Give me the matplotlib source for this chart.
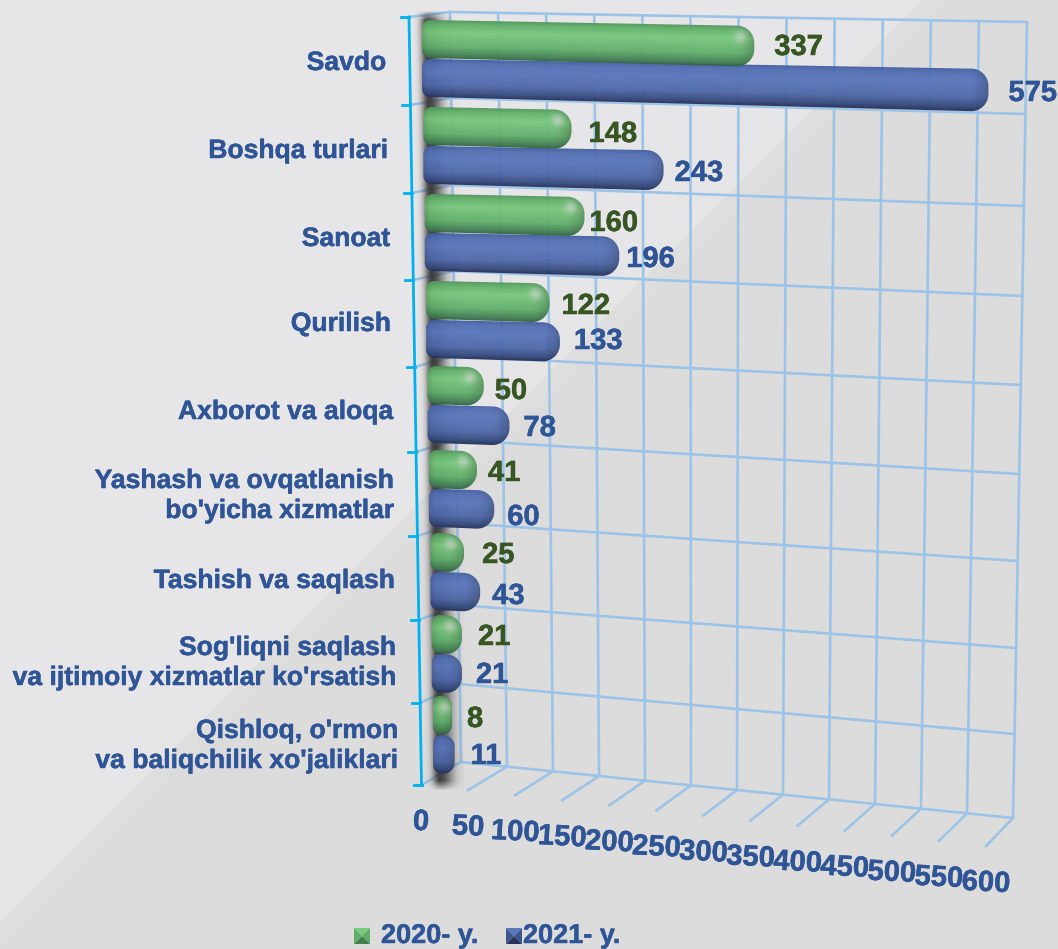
import numpy as np
import matplotlib
matplotlib.use("Agg")
import matplotlib.pyplot as plt
import matplotlib.patheffects as pe
from matplotlib.path import Path
from matplotlib.patches import PathPatch

plt.rcParams['font.family'] = ['Liberation Sans', 'DejaVu Sans']

# data, top row first
categories = ["Savdo", "Boshqa turlari", "Sanoat", "Qurilish", "Axborot va aloqa",
              "Yashash va ovqatlanish\nbo'yicha xizmatlar", "Tashish va saqlash",
              "Sog'liqni saqlash\nva ijtimoiy xizmatlar ko'rsatish",
              "Qishloq, o'rmon\nva baliqchilik xo'jaliklari"]
values_2020 = [337, 148, 160, 122, 50, 41, 25, 21, 8]
values_2021 = [575, 243, 196, 133, 78, 60, 43, 21, 11]
x_ticks = list(range(0, 601, 50))
legend_names = ["2020- y.", "2021- y."]

# layout, all in picture pixels
W, H = 1058, 949
front_y = [17, 105, 193, 280, 367, 452, 536, 620, 703, 785]
back_left_y = [12, 98, 185, 271, 356, 440, 523, 605, 684, 762]
back_right_y = [22, 114, 206, 296, 385, 474, 561, 648, 734, 818]
bar_top = [20, 107, 194, 281, 366, 450, 533, 615, 696]
cat_right = [386, 388, 390, 391, 393, 394, 395, 396, 398]
cat_y = [63, 151, 239, 324, 412, 496, 581, 663, 746]
label_y_2020 = [47, 134, 223, 306, 391, 473, 555, 637, 719]
label_y_2021 = [93, 173, 259, 341, 428, 517, 596, 675, 756]
label_gap_2020 = [20, 17, 5, 12, 11, 11, 18, 16, 15]
label_gap_2021 = [20, 11, 7, 14, 14, 13, 12, 14, 16]

BLUE_TXT = "#2f5597"
GREEN_TXT = "#375623"
GRID = "#9dc3e6"
AXIS = "#00b0f0"
heavy = [pe.withStroke(linewidth=0.35)]


def axis_x(r):
    return 409 + r * 12.5 / 9


def wall(v, r):
    # point on the back wall for a value and a row boundary
    t = v / 600
    xl = 450 + r * 11 / 9
    xr = 1027 - r * 14 / 9
    yl = back_left_y[r]
    yr = back_right_y[r]
    return xl + (xr - xl) * t, yl + (yr - yl) * t


def bar_end(v, r):
    # short bars look longer in the original because of the round cap
    return axis_x(r) + 13 + 0.985 * v + 12 * np.exp(-v / 90)


fig = plt.figure(figsize=(W / 100, H / 100), dpi=100)
ax = fig.add_axes([0, 0, 1, 1])
ax.axis("off")

# background
ax.fill([0, W, W, 0], [0, 0, H, H], color="#dcdcdc", lw=0, zorder=0)
ax.fill([0, 940, 0], [0, 0, 940], color="#dedede", lw=0, zorder=0.1)
ax.fill([0, 922, 0], [0, 0, 922], color="#e6e6e7", lw=0, zorder=0.2)
ax.fill([0, 906, 0], [0, 0, 906], color="#e6e6e9", lw=0, zorder=0.3)

# back wall grid
for r in range(10):
    p0, p1 = wall(0, r), wall(600, r)
    ax.plot([p0[0], p1[0]], [p0[1], p1[1]], color=GRID, lw=1.9, zorder=1)
    ax.plot([axis_x(r), p0[0]], [front_y[r], p0[1]], color=GRID, lw=1.9, zorder=1)
for v in x_ticks:
    for r in range(9):
        p0, p1 = wall(v, r), wall(v, r + 1)
        ax.plot([p0[0], p1[0]], [p0[1], p1[1]], color=GRID, lw=1.9, zorder=1,
                solid_capstyle="butt")
    # floor
    p = wall(v, 9)
    t = v / 600
    fx = p[0] - (40 - 13 * t)
    fy = p[1] + (23 + 5 * t)
    if v > 0:
        ax.plot([p[0], fx], [p[1], fy], color=GRID, lw=1.9, zorder=1)
    ax.text(fx, fy + 37, str(v), color=BLUE_TXT, fontsize=21, fontweight="bold",
            ha="center", va="center", rotation=-3, zorder=6, path_effects=heavy)

# shadow along the side wall
ys, xs = np.mgrid[10:790, 412:464]
cx = axis_x(0) + (ys - 17) * 12.5 / 768 + 18
fade = np.exp(-((xs - cx) / np.where(xs < cx, 7, 13)) ** 2)
shadow = np.zeros(xs.shape + (4,))
shadow[..., :3] = 0.22
shadow[..., 3] = 0.95 * fade * np.clip((ys - 10) / 10, 0, 1) * np.clip((790 - ys) / 10, 0, 1)
ax.imshow(shadow, extent=(412, 464, 790, 10), origin="upper", aspect="auto",
          interpolation="bilinear", zorder=2)

stops = [0, 0.12, 0.32, 0.68, 0.9, 1]
green_cols = np.array([[82, 150, 90], [98, 178, 106], [120, 200, 124],
                       [98, 176, 108], [68, 130, 84], [52, 100, 70]]) / 255
blue_cols = np.array([[66, 94, 160], [82, 110, 178], [90, 118, 188],
                      [78, 104, 168], [52, 72, 124], [36, 48, 88]]) / 255


def rounded(x0, x1, y0a, y0b, y1a, y1b, rl, rr):
    # y0a/y0b top edge at x0/x1, y1a/y1b bottom edge at x0/x1
    k = 0.55
    verts = [(x0 + rl, y0a), (x1 - rr, y0b),
             (x1 - rr * (1 - k), y0b), (x1, y0b + rr * (1 - k)), (x1, y0b + rr),
             (x1, y1b - rr),
             (x1, y1b - rr * (1 - k)), (x1 - rr * (1 - k), y1b), (x1 - rr, y1b),
             (x0 + rl, y1a),
             (x0 + rl * (1 - k), y1a), (x0, y1a - rl * (1 - k)), (x0, y1a - rl),
             (x0, y0a + rl),
             (x0, y0a + rl * (1 - k)), (x0 + rl * (1 - k), y0a), (x0 + rl, y0a)]
    c4 = [Path.CURVE4] * 3
    codes = [Path.MOVETO, Path.LINETO] + c4 + [Path.LINETO] + c4 + [Path.LINETO] + c4 + [Path.LINETO] + c4
    return Path(verts, codes)


def draw_bar(v, r, cols, top_off, bot_off, z, spot=False):
    x0 = axis_x(r) + 13
    x1 = bar_end(v, r)
    y0a = bar_top[r] + top_off
    y1a = bar_top[r] + bot_off
    L = x1 - x0
    y0b = y0a + 0.017 * L
    y1b = y1a + 0.025 * L
    rr = min(17, L * 0.5)
    rl = min(8, L * 0.35)
    l, rt = int(x0) - 1, int(x1) + 2
    t, b = int(y0a) - 1, int(y1b) + 2
    ys, xs = np.mgrid[t:b, l:rt] + 0.5
    u = (xs - x0) / L
    top = y0a + (y0b - y0a) * u
    bot = y1a + (y1b - y1a) * u
    f = np.clip((ys - top) / (bot - top), 0, 1)
    img = np.ones(xs.shape + (4,))
    for c in range(3):
        img[..., c] = np.interp(f, stops, cols[:, c])
    # darker towards the cap and the start
    end = np.clip((x1 - xs) / rr, 0, 1)
    shade = 0.72 + 0.28 * np.sqrt(end)
    shade *= 0.86 + 0.14 * np.clip((xs - x0) / 6, 0, 1)
    img[..., :3] *= shade[..., None]
    if spot:
        gl = np.exp(-(((xs - (x1 - rr * 0.8)) / 6) ** 2 + ((ys - (top + (bot - top) * 0.28)) / 6) ** 2))
        img[..., :3] += (0.85 - img[..., :3]) * (0.6 * gl)[..., None]
    img[..., 3] = 0.95
    im = ax.imshow(img, extent=(l, rt, b, t), origin="upper", aspect="auto",
                   interpolation="bilinear", zorder=z)
    patch = PathPatch(rounded(x0, x1, y0a, y0b, y1a, y1b, rl, rr), transform=ax.transData,
                      fc="none", ec="none")
    ax.add_patch(patch)
    im.set_clip_path(patch)
    return x1


for r in range(9):
    end_b = draw_bar(values_2021[r], r, blue_cols, 39, 77, 3)
    end_g = draw_bar(values_2020[r], r, green_cols, 0, 38, 4, spot=True)
    ax.text(end_g + label_gap_2020[r], label_y_2020[r], str(values_2020[r]), color=GREEN_TXT,
            fontsize=21, fontweight="bold", va="center", ha="left", zorder=6, path_effects=heavy)
    ax.text(end_b + label_gap_2021[r], label_y_2021[r], str(values_2021[r]), color=BLUE_TXT,
            fontsize=21, fontweight="bold", va="center", ha="left", zorder=6, path_effects=heavy)
    ax.text(cat_right[r], cat_y[r], categories[r], color=BLUE_TXT, fontsize=19.1,
            fontweight="bold", va="center", ha="right", linespacing=1.2, zorder=6, path_effects=heavy)

# left axis
ax.plot([axis_x(0), axis_x(9)], [front_y[0], front_y[9]], color=AXIS, lw=2, zorder=5)
for r in range(10):
    ax.plot([axis_x(r) - 8, axis_x(r)], [front_y[r], front_y[r]], color=AXIS, lw=2, zorder=5)


def legend_key(cx, cy, light, mid, dark):
    s = 8
    c = [(cx - s, cy - s), (cx + s, cy - s), (cx + s, cy + s), (cx - s, cy + s)]
    for i, col in enumerate([light, mid, dark, mid]):
        a, b = c[i], c[(i + 1) % 4]
        ax.fill([a[0], b[0], cx], [a[1], b[1], cy], color=col, lw=0, zorder=6)


legend_key(362, 936, "#7bcb7e", "#5fae68", "#3f7f4c")
legend_key(514, 936, "#5a76bc", "#3f5590", "#26345f")
ax.text(381, 936, legend_names[0], color=BLUE_TXT, fontsize=19.5, fontweight="bold",
        va="center", ha="left", zorder=6, path_effects=heavy)
ax.text(523, 936, legend_names[1], color=BLUE_TXT, fontsize=19.5, fontweight="bold",
        va="center", ha="left", zorder=6, path_effects=heavy)

ax.set_xlim(0, W)
ax.set_ylim(H, 0)
fig.savefig("out.png", dpi=100)
